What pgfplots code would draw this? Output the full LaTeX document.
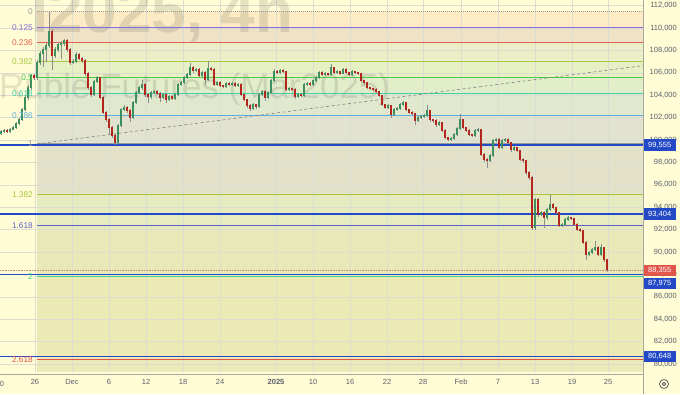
\documentclass[border=0pt]{standalone}
\usepackage{pgfplots}
\pgfplotsset{compat=1.18}
\usepackage{pgfplotstable}
\usepackage{fontspec}
\setmainfont{Liberation Sans}
\definecolor{cream}{HTML}{FFFCD6}
\definecolor{zA}{HTML}{FCEBC5}
\definecolor{zB}{HTML}{F0E2C6}
\definecolor{zC}{HTML}{EBEEC6}
\definecolor{zD}{HTML}{E7EFC5}
\definecolor{zE}{HTML}{E2EDC9}
\definecolor{zF}{HTML}{E0E9CE}
\definecolor{zG}{HTML}{E2E3CF}
\definecolor{zH}{HTML}{E3E2C8}
\definecolor{zI}{HTML}{E6EBC0}
\definecolor{zJ}{HTML}{E9E8B8}
\definecolor{zK}{HTML}{EBE9B4}
\definecolor{zL}{HTML}{ECEAB8}
\definecolor{lzero}{HTML}{9A9A9A}
\definecolor{lA}{HTML}{8C6FD6}
\definecolor{lB}{HTML}{E0614F}
\definecolor{lC}{HTML}{A8C840}
\definecolor{lD}{HTML}{4CC94C}
\definecolor{lE}{HTML}{40D0A8}
\definecolor{lF}{HTML}{5AAEDC}
\definecolor{lG}{HTML}{9A9A9A}
\definecolor{lH}{HTML}{A8C440}
\definecolor{lI}{HTML}{5A62C8}
\definecolor{lJ}{HTML}{3CD29A}
\definecolor{lK}{HTML}{E0504A}
\definecolor{hblue}{HTML}{2349C7}
\definecolor{pred}{HTML}{E0564B}
\definecolor{pdot}{HTML}{C48A70}
\definecolor{upc}{HTML}{3D8F5F}
\definecolor{dnc}{HTML}{B3261E}
\definecolor{wick}{HTML}{8C8C8C}
\definecolor{tickgray}{HTML}{5D606B}
\definecolor{gridc}{HTML}{DADDD0}
\definecolor{sepc}{HTML}{A8A8A0}

\pgfplotstableread{
x o h l c
1 100570 100900 100450 100750
4 100750 100950 100650 100840
10 100750 101050 100650 100930
13 100930 101250 100850 101110
16 101110 101600 101000 101460
19 101460 101950 101350 101820
22 101820 102900 101700 102710
25 102710 104000 102600 103790
28 103790 104900 103600 104680
31 104680 105900 104500 105750
37 105570 107100 105400 106910
40 106910 107950 106700 107710
43 107710 108300 106500 108070
46 108070 108700 107000 108430
49 108430 111460 108200 109680
55 107540 108300 107300 108070
58 108070 108750 107900 108520
61 108520 108800 107270 108610
64 108610 109050 108400 108880
73 106910 107200 106750 107000
76 107000 107900 106850 107620
94 104050 105350 103900 105210
97 105210 105700 105050 105570
118 99770 101400 99650 101290
121 101290 102850 101150 102710
124 102710 103150 102550 102890
133 102000 103450 101850 103340
136 103340 104400 103200 104230
139 104230 104850 104100 104680
142 104680 105390 104500 104950
151 103870 104400 103700 104230
154 104230 104500 104100 104320
163 103790 104200 103650 104050
169 103610 104000 103450 103870
175 103700 104200 103550 104050
178 104050 105100 103950 104950
181 104950 105250 104800 105120
184 105120 105700 105000 105570
187 105570 106000 105450 105840
190 105840 106910 105700 106460
196 106200 106450 106050 106290
202 105750 106150 105600 106020
208 105390 107090 105250 106370
217 104950 105300 104850 105120
226 104770 105200 104650 105040
232 104950 105200 104850 105040
238 104860 105100 104750 104950
253 102800 103300 102700 103160
259 102980 104200 102850 104050
262 104050 104500 103900 104320
268 103790 104350 103650 104230
271 104230 105450 104100 105300
274 105300 106300 105150 106110
280 106020 106350 105900 106200
289 104500 104750 104400 104590
298 103870 104200 103750 104050
304 103960 105100 103850 104950
307 104950 105200 104800 105040
313 104950 105450 104850 105300
316 105300 105700 105200 105570
319 105570 106150 105450 106020
325 105840 106050 105750 105930
331 105840 106820 105750 106460
337 106020 106250 105900 106110
343 105930 106450 105850 106290
352 105840 106250 105750 106110
388 102890 103200 102750 103070
394 102270 102850 102150 102710
397 102710 102950 102600 102800
400 102800 103300 102700 103160
403 103160 103500 103050 103340
418 101730 102100 101600 102000
421 102000 102250 101900 102090
424 102090 102300 101950 102180
427 102180 103160 102050 102620
439 101370 101700 101250 101550
451 100040 100250 99950 100120
454 100120 100600 100000 100480
457 100480 101150 100400 101020
460 101020 102360 100900 101820
475 100390 100950 100300 100840
478 100840 101100 100750 100930
490 98160 98750 98050 98610
493 98610 100100 98500 99950
496 99950 100200 99850 100040
502 99320 100100 99200 99950
505 99950 100200 99850 100040
514 99140 99500 99000 99320
535 92180 94850 92000 94680
541 93340 93700 93200 93520
547 93070 93950 92900 93790
550 93790 95120 93650 94230
562 92360 92600 92200 92450
565 92450 93050 92300 92890
568 92890 93200 92800 93070
589 89770 90100 89600 89950
592 89950 90350 89800 90210
595 90210 91020 90050 90390
601 89770 90700 89650 90390
}\upT

\pgfplotstableread{
x o h l c
7 100840 100950 100650 100750
34 105750 105900 105400 105570
52 109680 109900 106290 107540
67 108880 109000 107900 108070
70 108070 108200 106700 106910
79 107620 107800 107100 107270
82 107270 107400 106900 107090
85 107090 107200 105750 105930
88 105930 106050 104500 104680
91 104680 104800 103850 104050
100 105570 105650 103650 103790
103 103790 103900 102300 102450
106 102450 102600 101650 101820
109 101820 101950 100480 101110
112 101110 101250 100200 100390
115 100390 100500 99590 99770
127 102890 103000 102450 102620
130 102620 102750 101640 102000
145 104950 105100 103850 104050
148 104050 104200 103300 103870
157 104320 104450 104000 104140
160 104140 104250 103400 103790
166 104050 104150 103300 103610
172 103870 104000 103550 103700
193 106460 106600 106000 106200
199 106290 106400 105600 105750
205 106020 106150 104950 105390
211 106370 106500 106150 106290
214 106290 106400 104800 104950
220 105120 105250 104700 104860
223 104860 104950 104600 104770
229 105040 105150 104800 104950
235 105040 105200 104700 104860
241 104950 105050 103900 104050
244 104050 104150 103450 103610
247 103610 103700 102900 103070
250 103070 103200 102620 102800
256 103160 103250 102800 102980
265 104320 104450 103520 103790
277 106110 106250 105900 106020
283 106200 106300 105950 106110
286 106110 106200 104350 104500
292 104590 104650 104350 104500
295 104500 104600 103700 103870
301 104050 104150 103800 103960
310 105040 105150 104800 104950
322 106020 106150 105700 105840
328 105930 106000 105700 105840
334 106460 106550 105900 106020
340 106110 106200 105800 105930
346 106290 106400 105900 106020
349 106020 106100 105700 105840
355 106110 106200 105900 106020
358 106020 106100 105800 105930
361 105930 106000 105150 105300
364 105300 105400 104950 105120
367 105120 105200 104550 104680
370 104680 104750 104450 104590
373 104590 104650 104350 104500
376 104500 104600 104150 104320
379 104320 104400 103800 103960
382 103960 104050 103000 103160
385 103160 103250 102750 102890
391 103070 103150 102000 102270
406 103340 103400 102550 102710
409 102710 102800 102300 102450
412 102450 102550 102200 102360
415 102360 102450 101350 101730
430 102620 102700 101650 101820
433 101820 101900 101550 101730
436 101730 101850 101200 101370
442 101550 101650 100700 100840
445 100840 100950 100050 100210
448 100210 100300 99900 100040
463 101820 101900 100950 101110
466 101110 101200 100700 100840
469 100840 100950 100350 100480
472 100480 100550 100250 100390
481 100930 101000 98550 98700
484 98700 98850 98050 98250
487 98250 98400 97540 98160
499 100040 100150 99200 99320
508 100040 100150 99600 99770
511 99770 99850 98950 99140
517 99320 99400 98900 99050
520 99050 99150 98100 98250
523 98250 98350 97950 98160
526 98160 98250 96900 97090
529 97090 97200 96450 96640
532 96640 96750 92000 92180
538 94680 94800 93150 93340
544 93520 93650 92180 93070
553 94230 94400 93800 93960
556 93960 94050 93350 93520
559 93520 93600 92200 92360
571 93070 93150 92850 92980
574 92980 93050 92300 92450
577 92450 92550 91850 92000
580 92000 92100 91750 91910
583 91910 92000 90700 90840
586 90840 90950 89320 89770
598 90390 90500 89600 89770
604 90390 90450 89150 89320
607 89320 89400 88250 88355
}\dnT

\newcommand{\tkf}{\fontsize{7.5}{9}\selectfont}
\newcommand{\fbf}{\fontsize{8.3}{10}\selectfont}

\begin{document}
\begin{tikzpicture}[x=1pt,y=1pt]
\fill[cream] (0,0) rectangle (680,394);
\begin{axis}[
  at={(0,20)}, anchor=south west, scale only axis,
  width=643pt, height=374pt,
  xmin=0, xmax=643, ymin=79321, ymax=112714,
  clip mode=individual,
  axis line style={draw=none},
  major tick length=0pt,
  xtick={35,72,109,146,183,220,276,313,350,387,423,461,498,535,572,608},
  xticklabels={26,Dec,6,12,18,24,\textbf{2025},10,16,22,28,Feb,7,13,19,25},
  ytick={80000,82000,...,112000},
  yticklabels={{80,000},{82,000},{84,000},{86,000},{88,000},{90,000},{92,000},{94,000},{96,000},{98,000},{100,000},{102,000},{104,000},{106,000},{108,000},{110,000},{112,000}},
  yticklabel pos=right,
  tick label style={font=\tkf, text=tickgray, inner sep=0pt},
  xticklabel style={anchor=center, yshift=-10pt},
  yticklabel style={anchor=east, xshift=34pt},
]
% fib zones
\fill[zA] (37,111500) rectangle (643,110019);
\fill[zB] (37,110019) rectangle (643,108703);
\fill[zC] (37,108703) rectangle (643,106973);
\fill[zD] (37,106973) rectangle (643,105575);
\fill[zE] (37,105575) rectangle (643,104177);
\fill[zF] (37,104177) rectangle (643,102186);
\fill[zG] (37,102186) rectangle (643,99650);
\fill[zH] (37,99650) rectangle (643,95123);
\fill[zI] (37,95123) rectangle (643,92327);
\fill[zJ] (37,92327) rectangle (643,87800);
\fill[zK] (37,87800) rectangle (643,80400);
\fill[zL] (37,80400) rectangle (643,79321);
% grid
\draw[gridc, line width=0.5pt] (0,80000)--(643,80000) (0,82000)--(643,82000) (0,84000)--(643,84000) (0,86000)--(643,86000) (0,88000)--(643,88000) (0,90000)--(643,90000) (0,92000)--(643,92000) (0,94000)--(643,94000) (0,96000)--(643,96000) (0,98000)--(643,98000) (0,100000)--(643,100000) (0,102000)--(643,102000) (0,104000)--(643,104000) (0,106000)--(643,106000) (0,108000)--(643,108000) (0,110000)--(643,110000) (0,112000)--(643,112000);
\draw[gridc, line width=0.5pt] (35,79321)--(35,112714) (72,79321)--(72,112714) (109,79321)--(109,112714) (146,79321)--(146,112714) (183,79321)--(183,112714) (220,79321)--(220,112714) (276,79321)--(276,112714) (313,79321)--(313,112714) (350,79321)--(350,112714) (387,79321)--(387,112714) (423,79321)--(423,112714) (461,79321)--(461,112714) (498,79321)--(498,112714) (535,79321)--(535,112714) (572,79321)--(572,112714) (608,79321)--(608,112714);
% watermarks
\node[anchor=base west, inner sep=0pt, text=black, opacity=0.1, font=\fontsize{62}{62}\selectfont\bfseries] at (31,109589) {I2025, 4h};
\node[anchor=base west, inner sep=0pt, text=black, opacity=0.1, font=\fontsize{35}{35}\selectfont] at (-1,103696) {Ruble Futures (Mar2025)};
% fib levels
\addplot[lzero, line width=0.8pt, dash pattern=on 1pt off 1pt] coordinates {(37,111500) (643,111500)};
\addplot[lA, line width=0.9pt] coordinates {(37,110019) (643,110019)};
\addplot[lB, line width=0.9pt] coordinates {(37,108703) (643,108703)};
\addplot[lC, line width=0.9pt] coordinates {(37,106973) (643,106973)};
\addplot[lD, line width=0.9pt] coordinates {(37,105575) (643,105575)};
\addplot[lE, line width=0.9pt] coordinates {(37,104177) (643,104177)};
\addplot[lF, line width=0.9pt] coordinates {(37,102186) (643,102186)};
\addplot[lG, line width=0.9pt] coordinates {(37,99650) (643,99650)};
\addplot[lH, line width=0.9pt] coordinates {(37,95123) (643,95123)};
\addplot[lI, line width=0.9pt] coordinates {(37,92327) (643,92327)};
\addplot[lJ, line width=0.9pt] coordinates {(37,87800) (643,87800)};
\addplot[lK, line width=0.9pt] coordinates {(37,80400) (643,80400)};
% trend line
\addplot[gray, line width=0.6pt, dash pattern=on 3pt off 2.5pt] coordinates {(37,99650) (643,106640)};
% horizontal lines
\addplot[hblue, line width=1.3pt] coordinates {(0,99555) (643,99555)};
\addplot[hblue, line width=1.3pt] coordinates {(0,93404) (643,93404)};
\addplot[hblue, line width=1.3pt] coordinates {(0,87975) (643,87975)};
\addplot[hblue, line width=1.3pt] coordinates {(0,80648) (643,80648)};
\addplot[pdot, line width=1.1pt, dash pattern=on 0.8pt off 0.8pt] coordinates {(0,88355) (643,88355)};
% candles: wicks
\addplot[draw=none, mark=none, error bars/.cd, y dir=plus, y explicit, error mark=none,
  error bar style={draw=wick, line width=0.6pt}]
  table[x=x, y=l, y error plus expr=\thisrow{h}-\thisrow{l}] {\upT};
\addplot[draw=none, mark=none, error bars/.cd, y dir=plus, y explicit, error mark=none,
  error bar style={draw=wick, line width=0.6pt}]
  table[x=x, y=l, y error plus expr=\thisrow{h}-\thisrow{l}] {\dnT};
% bodies
\addplot[draw=none, mark=none, error bars/.cd, y dir=plus, y explicit, error mark=none,
  error bar style={draw=upc, line width=2.3pt}]
  table[x=x, y=o, y error plus expr=\thisrow{c}-\thisrow{o}+40] {\upT};
\addplot[draw=none, mark=none, error bars/.cd, y dir=plus, y explicit, error mark=none,
  error bar style={draw=dnc, line width=2.3pt}]
  table[x=x, y=c, y error plus expr=\thisrow{o}-\thisrow{c}+40] {\dnT};
% fib labels
\node[anchor=east, inner sep=0pt, text=lzero, font=\fbf] at (33,111500) {0};
\node[anchor=east, inner sep=0pt, text=lA, font=\fbf] at (33,110019) {0.125};
\node[anchor=east, inner sep=0pt, text=lB, font=\fbf] at (33,108703) {0.236};
\node[anchor=east, inner sep=0pt, text=lC, font=\fbf] at (33,106973) {0.382};
\node[anchor=east, inner sep=0pt, text=lD, font=\fbf] at (33,105575) {0.5};
\node[anchor=east, inner sep=0pt, text=lE, font=\fbf] at (33,104177) {0.618};
\node[anchor=east, inner sep=0pt, text=lF, font=\fbf] at (33,102186) {0.786};
\node[anchor=east, inner sep=0pt, text=lG, font=\fbf] at (33,99650) {1};
\node[anchor=east, inner sep=0pt, text=lH, font=\fbf] at (33,95123) {1.382};
\node[anchor=east, inner sep=0pt, text=lI, font=\fbf] at (33,92327) {1.618};
\node[anchor=east, inner sep=0pt, text=lJ, font=\fbf] at (33,87800) {2};
\node[anchor=east, inner sep=0pt, text=lK, font=\fbf] at (33,80400) {2.618};
% price boxes
\node[anchor=west, fill=hblue, text=white, font=\tkf, minimum width=33pt, minimum height=11.5pt, inner sep=0pt] at (643,99555) {99,555};
\node[anchor=west, fill=hblue, text=white, font=\tkf, minimum width=33pt, minimum height=11.5pt, inner sep=0pt] at (643,93404) {93,404};
\node[anchor=west, fill=pred, text=white, font=\tkf, minimum width=33pt, minimum height=11.5pt, inner sep=0pt] at (643,88355) {88,355};
\node[anchor=west, fill=hblue, text=white, font=\tkf, minimum width=33pt, minimum height=11.5pt, inner sep=0pt, yshift=-9pt] at (643,87975) {87,975};
\node[anchor=west, fill=hblue, text=white, font=\tkf, minimum width=33pt, minimum height=11.5pt, inner sep=0pt] at (643,80648) {80,648};
\end{axis}
\draw[sepc, line width=0.7pt] (0,20) -- (643,20);
\draw[sepc, line width=0.7pt] (643,0) -- (643,394);
\node[font=\tkf, text=tickgray, inner sep=0pt] at (0,10) {20};
\draw[tickgray, line width=0.8pt] (664,10) circle (4.5);
\draw[tickgray, line width=0.8pt] (664,10) circle (1.7);
\pgfresetboundingbox
\useasboundingbox (0,0) rectangle (680,394);
\end{tikzpicture}
\end{document}
